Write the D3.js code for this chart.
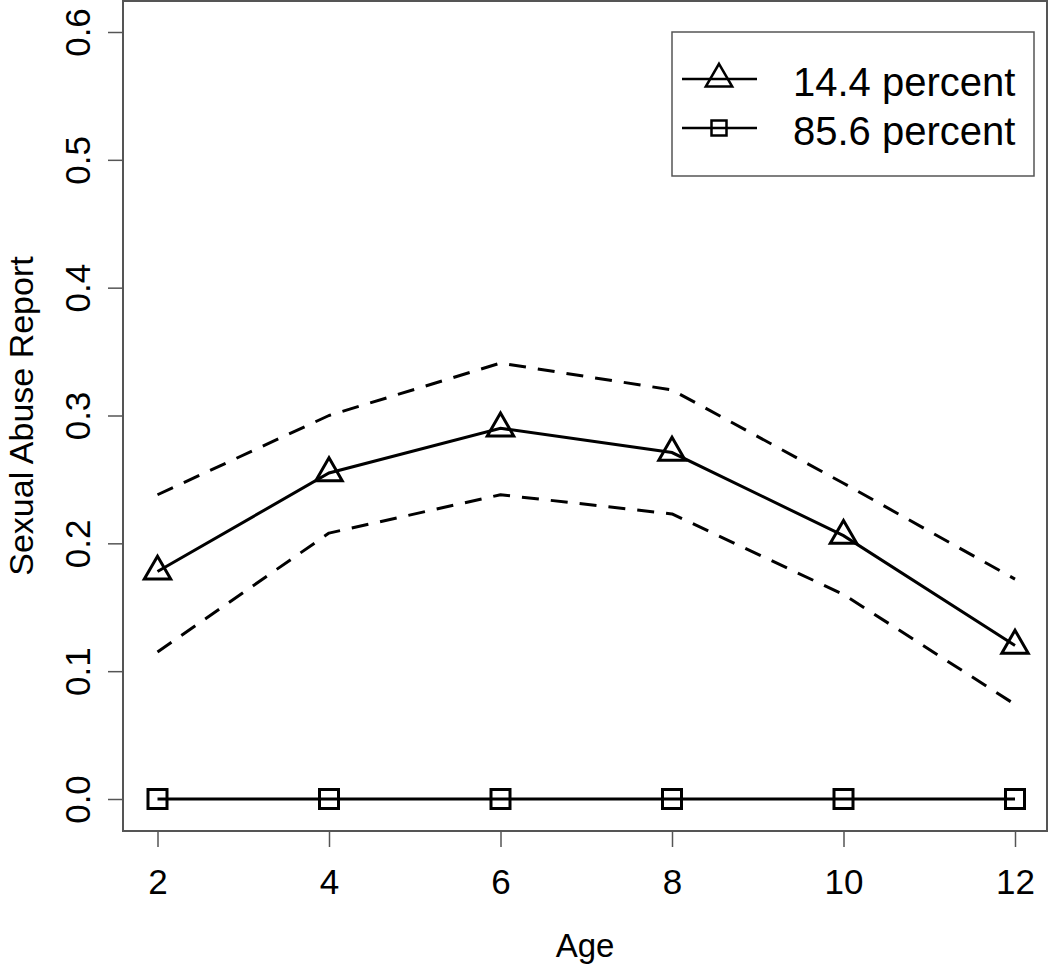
<!DOCTYPE html>
<html>
<head>
<meta charset="utf-8">
<script src="https://cdn.jsdelivr.net/npm/d3@7"></script>
<style>
  html, body { margin: 0; padding: 0; background: #fff; }
  svg { display: block; }
  text { font-family: "Liberation Sans", Arial, sans-serif; fill: #000; }
</style>
</head>
<body>
<svg id="chart" width="1050" height="965"></svg>
<script>
// ---- data ----
const ages = [2, 4, 6, 8, 10, 12];
const group1 = [0.178, 0.255, 0.290, 0.271, 0.206, 0.120];   // 14.4 percent
const group1Upper = [0.238, 0.300, 0.341, 0.320, 0.247, 0.172];
const group1Lower = [0.115, 0.208, 0.238, 0.223, 0.160, 0.074];
const group2 = [0.0, 0.0, 0.0, 0.0, 0.0, 0.0];               // 85.6 percent
const xTicks = [2, 4, 6, 8, 10, 12];
const yTicks = [0.0, 0.1, 0.2, 0.3, 0.4, 0.5, 0.6];
const legendLabels = ["14.4 percent", "85.6 percent"];
const xTitle = "Age";
const yTitle = "Sexual Abuse Report";

// ---- layout ----
const svg = d3.select("#chart");
const frame = { left: 123, right: 1047, top: 1, bottom: 831 };
const x = d3.scaleLinear().domain([2, 12]).range([157.5, 1015]);
const y = d3.scaleLinear().domain([0, 0.6]).range([799, 32]);

const frameColor = "#555";

// plot frame
svg.append("rect")
  .attr("x", frame.left).attr("y", frame.top)
  .attr("width", frame.right - frame.left).attr("height", frame.bottom - frame.top)
  .attr("fill", "none").attr("stroke", frameColor).attr("stroke-width", 2);

// x axis
const xAxis = d3.axisBottom(x).tickValues(xTicks).tickSize(16).tickPadding(10)
  .tickFormat(d3.format("d"));
const gx = svg.append("g").attr("transform", `translate(0,${frame.bottom})`).call(xAxis);
gx.select(".domain").remove();
gx.selectAll(".tick line").attr("stroke", frameColor).attr("stroke-width", 1.5);
gx.selectAll(".tick text").attr("font-size", 35).attr("fill", "#000")
  .attr("dy", null).attr("y", 63)
  .style("font-family", "'Liberation Sans', Arial, sans-serif");

// y axis
const yAxis = d3.axisLeft(y).tickValues(yTicks).tickSize(15).tickFormat(d3.format(".1f"));
const gy = svg.append("g").attr("transform", `translate(${frame.left},0)`).call(yAxis);
gy.select(".domain").remove();
gy.selectAll(".tick line").attr("stroke", frameColor).attr("stroke-width", 1.5);
gy.selectAll(".tick text")
  .attr("font-size", 35).attr("fill", "#000")
  .attr("x", null).attr("dy", null)
  .attr("text-anchor", "middle")
  .attr("transform", "translate(-33,0) rotate(-90)")
  .style("font-family", "'Liberation Sans', Arial, sans-serif");

// axis titles
svg.append("text").attr("x", 585).attr("y", 957)
  .attr("text-anchor", "middle").attr("font-size", 33).text(xTitle);
svg.append("text")
  .attr("transform", `translate(33,${(frame.top + frame.bottom) / 2}) rotate(-90)`)
  .attr("text-anchor", "middle").attr("font-size", 34).text(yTitle);

// lines
const line = d3.line().x(d => x(d[0])).y(d => y(d[1]));
const zipped = arr => ages.map((a, i) => [a, arr[i]]);

const plot = svg.append("g");
[group1Upper, group1Lower].forEach(arr => {
  plot.append("path").datum(zipped(arr)).attr("d", line)
    .attr("fill", "none").attr("stroke", "#000").attr("stroke-width", 3)
    .attr("stroke-dasharray", "17,12").attr("stroke-linejoin", "round");
});
plot.append("path").datum(zipped(group1)).attr("d", line)
  .attr("fill", "none").attr("stroke", "#000").attr("stroke-width", 3);
plot.append("path").datum(zipped(group2)).attr("d", line)
  .attr("fill", "none").attr("stroke", "#000").attr("stroke-width", 3);

// marker shapes (R pch 2 and pch 0 geometry)
const xc = 9.8;
const triPath = (cx, cy) => {
  const r = 1.555 * xc, h = 1.347 * xc, yc = 0.778 * xc;
  return `M${cx},${cy - r}L${cx + h},${cy + yc}L${cx - h},${cy + yc}Z`;
};
const sq = 9.5;
const sqPath = (cx, cy) => `M${cx - sq},${cy - sq}H${cx + sq}V${cy + sq}H${cx - sq}Z`;

plot.selectAll("path.tri").data(zipped(group1)).join("path")
  .attr("class", "tri")
  .attr("d", d => triPath(x(d[0]), y(d[1])))
  .attr("fill", "none").attr("stroke", "#000").attr("stroke-width", 3);
plot.selectAll("path.sq").data(zipped(group2)).join("path")
  .attr("class", "sq")
  .attr("d", d => sqPath(x(d[0]), y(d[1])))
  .attr("fill", "none").attr("stroke", "#000").attr("stroke-width", 3);

// legend
const lg = svg.append("g");
lg.append("rect").attr("x", 672).attr("y", 32).attr("width", 362).attr("height", 144)
  .attr("fill", "#fff").attr("stroke", frameColor).attr("stroke-width", 1.5);
const rowsY = [79, 128];
legendLabels.forEach((lab, i) => {
  const ry = rowsY[i];
  lg.append("line").attr("x1", 682).attr("x2", 757).attr("y1", ry).attr("y2", ry)
    .attr("stroke", "#000").attr("stroke-width", 2.5);
  if (i === 0) {
    lg.append("path").attr("d", triPath(719, ry)).attr("fill", "none")
      .attr("stroke", "#000").attr("stroke-width", 2.5);
  } else {
    const s = 7.5;
    lg.append("path").attr("d", `M${719 - s},${ry - s}H${719 + s}V${ry + s}H${719 - s}Z`)
      .attr("fill", "none").attr("stroke", "#000").attr("stroke-width", 2.5);
  }
  lg.append("text").attr("x", 793).attr("y", ry + 17).attr("font-size", 40).text(lab);
});
</script>
</body>
</html>
